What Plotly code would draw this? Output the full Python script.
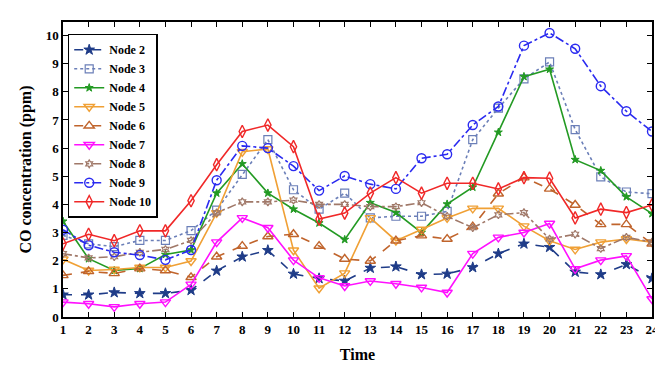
import plotly.graph_objects as go

time = list(range(1, 25))
node2 = [0.79, 0.79, 0.87, 0.84, 0.84, 0.95, 1.64, 2.14, 2.37, 1.53, 1.37, 1.28, 1.74, 1.79, 1.51, 1.53, 1.76, 2.25, 2.6, 2.48, 1.6, 1.51, 1.87, 1.37]
node3 = [2.9, 2.6, 2.5, 2.72, 2.72, 3.07, 3.8, 5.07, 6.3, 4.52, 3.83, 4.4, 3.52, 3.58, 3.58, 3.75, 6.3, 7.42, 8.46, 9.06, 6.66, 4.98, 4.44, 4.38]
node4 = [3.4, 2.07, 1.65, 1.72, 2.22, 2.38, 4.4, 5.44, 4.4, 3.83, 3.34, 2.75, 4.06, 3.71, 3.0, 4.01, 4.61, 6.56, 8.54, 8.8, 5.59, 5.2, 4.27, 3.67]
node5 = [2.05, 1.65, 1.69, 1.76, 1.76, 1.99, 3.7, 5.87, 5.97, 2.37, 1.02, 1.56, 3.52, 2.71, 3.11, 3.52, 3.86, 3.86, 3.23, 2.71, 2.4, 2.66, 2.77, 2.66]
node6 = [1.48, 1.62, 1.55, 1.72, 1.65, 1.41, 2.14, 2.52, 2.86, 2.94, 2.52, 2.06, 1.99, 2.71, 2.89, 2.77, 3.21, 4.38, 4.95, 4.55, 3.98, 3.29, 3.29, 2.6]
node7 = [0.53, 0.47, 0.36, 0.47, 0.53, 1.16, 2.66, 3.52, 3.17, 2.02, 1.39, 1.1, 1.28, 1.18, 1.05, 0.87, 2.25, 2.83, 3.0, 3.32, 1.71, 2.02, 2.17, 0.64]
node8 = [2.25, 2.1, 2.14, 2.3, 2.4, 2.72, 3.7, 4.09, 4.09, 4.15, 4.0, 4.0, 3.92, 3.92, 4.06, 3.58, 3.17, 3.63, 3.71, 2.77, 2.94, 2.43, 2.83, 2.66]
node9 = [3.1, 2.55, 2.3, 2.2, 2.03, 2.38, 4.86, 6.08, 6.0, 5.36, 4.49, 5.01, 4.72, 4.55, 5.64, 5.78, 6.82, 7.48, 9.64, 10.09, 9.53, 8.2, 7.31, 6.59]
node10 = [2.6, 2.94, 2.71, 3.06, 3.06, 4.13, 5.41, 6.59, 6.82, 6.05, 3.48, 3.69, 4.4, 4.95, 4.4, 4.75, 4.75, 4.55, 4.95, 4.93, 3.52, 3.83, 3.71, 3.98]
y_ticks = list(range(0, 11))

series = [
    ("Node 2", node2, "#1f3c88", "dash", "star", 8, 1),
    ("Node 3", node3, "#6b7fb8", "dot", "square-open", 8, 1.2),
    ("Node 4", node4, "#239a23", "solid", "star", 6, 1),
    ("Node 5", node5, "#f0a035", "solid", "triangle-down-open", 9, 1.4),
    ("Node 6", node6, "#c0642c", "dash", "triangle-up-open", 9, 1.4),
    ("Node 7", node7, "#ff10ff", "solid", "triangle-down-open", 9, 1.4),
    ("Node 8", node8, "#a07868", "dashdot", "hexagram-open", 6, 1.2),
    ("Node 9", node9, "#2a2af0", "dashdot", "circle-open", 9, 1.4),
    ("Node 10", node10, "#f02828", "solid", "diamond-tall-open", 9, 1.4),
]

fig = go.Figure()
for name, vals, color, dash, sym, size, mlw in series:
    fig.add_trace(go.Scatter(
        x=time, y=vals, name=name, mode="lines+markers",
        line=dict(color=color, width=1.6, dash=dash),
        marker=dict(symbol=sym, size=size, color=color, line=dict(color=color, width=mlw)),
    ))

fig.update_layout(
    width=663, height=365,
    margin=dict(l=55, r=17, t=13, b=48),
    paper_bgcolor="white", plot_bgcolor="white",
    font=dict(family="Liberation Serif", color="black"),
    showlegend=True,
    legend=dict(
        x=0.008, y=0.96, xanchor="left", yanchor="top",
        bgcolor="white", bordercolor="black", borderwidth=1.5,
        font=dict(family="Liberation Serif", size=12, color="black", weight="bold"),
        tracegroupgap=0, itemwidth=30,
    ),
)
fig.update_xaxes(
    range=[1, 24], tickmode="array", tickvals=time, ticktext=[str(t) for t in time],
    ticks="inside", ticklen=5, tickcolor="black", mirror="ticks",
    showline=True, linecolor="black", linewidth=1.5, showgrid=False, zeroline=False,
    tickfont=dict(family="Liberation Serif", size=13, color="black", weight="bold"),
    title=dict(text="<b>Time</b>", font=dict(family="Liberation Serif", size=16, color="black"), standoff=12),
)
fig.update_yaxes(
    range=[0, 10.48], tickmode="array", tickvals=y_ticks,
    ticks="inside", ticklen=5, tickcolor="black", mirror="ticks",
    showline=True, linecolor="black", linewidth=1.5, showgrid=False, zeroline=False,
    tickfont=dict(family="Liberation Serif", size=13, color="black", weight="bold"),
    title=dict(text="<b>CO concentration (ppm)</b>", font=dict(family="Liberation Serif", size=16, color="black"), standoff=10),
)
fig.write_html("out.html")
